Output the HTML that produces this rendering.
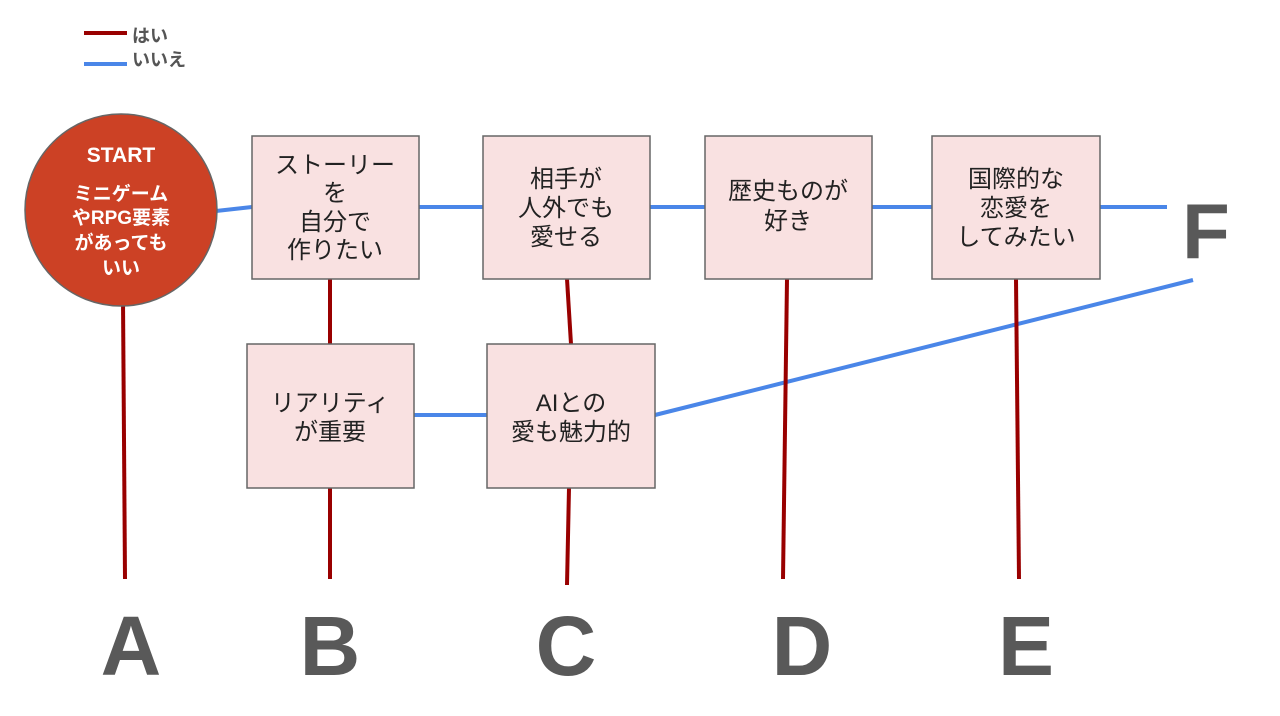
<!DOCTYPE html>
<html><head><meta charset="utf-8"><style>
html,body{margin:0;padding:0;background:#fff;}
svg{display:block;}
text{font-family:"Liberation Sans","Noto Sans CJK JP",sans-serif;}
</style></head><body>
<svg width="1280" height="716" viewBox="0 0 1280 716" xmlns="http://www.w3.org/2000/svg">
<line x1="84" y1="33" x2="127" y2="33" stroke="#990000" stroke-width="4"/>
<text x="132" y="42" font-size="18" font-weight="bold" fill="#555">はい</text>
<line x1="84" y1="64" x2="127" y2="64" stroke="#4a86e8" stroke-width="4"/>
<text x="132" y="66" font-size="18" font-weight="bold" fill="#555">いいえ</text>
<g stroke="#4a86e8" stroke-width="4" fill="none">
<line x1="216" y1="211" x2="252" y2="207"/>
<line x1="419" y1="207" x2="483" y2="207"/>
<line x1="650" y1="207" x2="705" y2="207"/>
<line x1="872" y1="207" x2="932" y2="207"/>
<line x1="1100" y1="207" x2="1167" y2="207"/>
<line x1="414" y1="415" x2="487" y2="415"/>
<line x1="655" y1="415" x2="1193" y2="280"/>
</g>
<g stroke="#990000" stroke-width="4" fill="none">
<line x1="123" y1="300" x2="125" y2="579"/>
<line x1="330" y1="279" x2="330" y2="344"/>
<line x1="330" y1="488" x2="330" y2="579"/>
<line x1="567" y1="279" x2="571" y2="344"/>
<line x1="569" y1="488" x2="567" y2="585"/>
<line x1="787" y1="279" x2="783" y2="579"/>
<line x1="1016" y1="279" x2="1019" y2="579"/>
</g>
<circle cx="121" cy="210" r="96" fill="#cc4125" stroke="#666" stroke-width="1.5"/>
<g fill="#fff" font-weight="bold" text-anchor="middle">
<text x="121" y="162" font-size="21">START</text>
<text x="121" y="200" font-size="19">ミニゲーム</text>
<text x="121" y="224" font-size="19">やRPG要素</text>
<text x="121" y="249" font-size="19">があっても</text>
<text x="121" y="274" font-size="19">いい</text>
</g>
<g fill="#f9e1e1" stroke="#666" stroke-width="1.5">
<rect x="252" y="136" width="167" height="143"/>
<rect x="483" y="136" width="167" height="143"/>
<rect x="705" y="136" width="167" height="143"/>
<rect x="932" y="136" width="168" height="143"/>
<rect x="247" y="344" width="167" height="144"/>
<rect x="487" y="344" width="168" height="144"/>
</g>
<g fill="#222" font-size="24" text-anchor="middle">
<text x="335" y="173">ストーリー</text>
<text x="335" y="201">を</text>
<text x="335" y="230">自分で</text>
<text x="335" y="258">作りたい</text>
<text x="566" y="187">相手が</text>
<text x="566" y="216">人外でも</text>
<text x="566" y="245">愛せる</text>
<text x="788" y="199">歴史ものが</text>
<text x="788" y="229">好き</text>
<text x="1016" y="187">国際的な</text>
<text x="1016" y="216">恋愛を</text>
<text x="1016" y="245">してみたい</text>
<text x="330" y="411">リアリティ</text>
<text x="330" y="440">が重要</text>
<text x="571" y="411">AIとの</text>
<text x="571" y="440">愛も魅力的</text>
</g>
<g fill="#595959" font-weight="bold" font-size="84" text-anchor="middle">
<text x="131" y="675">A</text>
<text x="330" y="675">B</text>
<text x="566" y="675">C</text>
<text x="802" y="675">D</text>
<text x="1026" y="675">E</text>
<text x="1206" y="258" font-size="78">F</text>
</g>
</svg>
</body></html>
